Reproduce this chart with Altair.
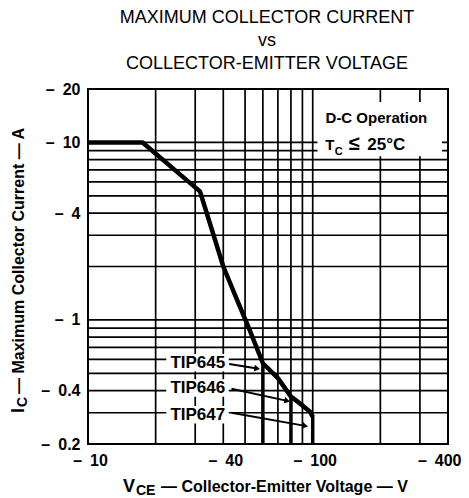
import altair as alt
import pandas as pd

FONT = "Liberation Sans"

# ---------------- data ----------------
title_lines = ["MAXIMUM COLLECTOR CURRENT", "vs", "COLLECTOR-EMITTER VOLTAGE"]

x_domain = [10, 400]
y_domain = [0.2, 20]
x_tick_values = [10, 40, 100, 400]
y_tick_values = [20, 10, 4, 1, 0.4, 0.2]
grid_v = [20, 30, 40, 50, 60, 70, 80, 90, 100, 200, 300]
grid_i = [0.3, 0.4, 0.5, 0.6, 0.7, 0.8, 0.9, 1, 2, 3, 4, 5, 6, 7, 8, 9, 10]

curve_v = [10, 17.5, 28.5, 31.5, 40, 46, 52, 60, 70, 80, 90, 97, 100]
curve_i = [10, 10, 5.9, 5.3, 2.0, 1.3, 0.9, 0.57, 0.47, 0.37, 0.33, 0.305, 0.285]

devices = ["TIP645", "TIP646", "TIP647"]
rating_v = [60, 80, 100]
rating_i = [0.57, 0.37, 0.29]

label_v = [40.8, 40.8, 40.8]
label_i = [0.573, 0.414, 0.292]
label_box_v = [22.3, 42.3]
label_box_pad = 1.12
arrow_v0 = [42.5, 43.5, 43.5]
arrow_i0 = [0.565, 0.409, 0.300]
arrow_v1 = [56.6, 77.0, 92.6]
arrow_i1 = [0.532, 0.350, 0.253]
arrow_deg = [9, 12, 10]

note_box_v = [105, 376]
note_box_i = [8.37, 16.9]
note_texts = ["D-C Operation", "T", "C", "\u2264", "25\u00b0C"]
note_v = [192, 113.6, 125.4, 145, 175]
note_i = [12.8, 9.05, 8.48, 9.05, 9.05]
note_size = [15, 15, 11, 20, 17]
note_align = ["center", "left", "left", "left", "left"]

x_title_parts = ["V", "CE", "\u2014 Collector-Emitter Voltage \u2014 V"]
y_title_parts = ["I", "C", "\u2014 Maximum Collector Current \u2014 A"]

# ---------------- scales / axes ----------------
xs = alt.Scale(type="log", domain=x_domain, nice=False)
ys = alt.Scale(type="log", domain=y_domain, nice=False)

xaxis = alt.Axis(
    values=x_tick_values, format="~g", labelExpr="'\u2013\u2002' + datum.label",
    grid=False, ticks=False, domain=False, labelFlush=False,
    labelFont=FONT, labelFontWeight="bold", labelFontSize=16, labelColor="black",
    labelPadding=8,
    labelAlign={"condition": {"test": "datum.value >= 400", "value": "right"}, "value": "center"},
    labelOffset={"condition": {"test": "datum.value >= 400", "value": 13}, "value": 2},
    title="",
)
yaxis = alt.Axis(
    values=y_tick_values, format="~g", labelExpr="'\u2013\u2002' + datum.label",
    grid=False, ticks=False, domain=False, labelFlush=False,
    labelFont=FONT, labelFontWeight="bold", labelFontSize=16, labelColor="black",
    labelPadding=8, title="",
)


def X(f):
    return alt.X(f, type="quantitative", scale=xs, axis=xaxis)


def Y(f):
    return alt.Y(f, type="quantitative", scale=ys, axis=yaxis)


# ---------------- tables ----------------
gv = pd.DataFrame({"v": grid_v, "i0": y_domain[0], "i1": y_domain[1]})
gh = pd.DataFrame({"i": grid_i, "v0": x_domain[0], "v1": x_domain[1]})
curve = pd.DataFrame({"v": curve_v, "i": curve_i, "k": range(len(curve_v))})
rating = pd.DataFrame({"v": rating_v, "i": rating_i, "i0": y_domain[0]})
labels = pd.DataFrame({
    "dev": devices, "v": label_v, "i": label_i,
    "bv0": label_box_v[0], "bv1": label_box_v[1],
    "bi0": [x / label_box_pad for x in label_i],
    "bi1": [x * label_box_pad for x in label_i],
})
arrows = pd.DataFrame({"v0": arrow_v0, "i0": arrow_i0, "v1": arrow_v1,
                       "i1": arrow_i1, "ang": arrow_deg})
note_box = pd.DataFrame({"v0": [note_box_v[0]], "v1": [note_box_v[1]],
                         "i0": [note_box_i[0]], "i1": [note_box_i[1]]})

layers = []
layers.append(alt.Chart(gv).mark_rule(color="black", strokeWidth=1.7).encode(
    x=X("v"), y=Y("i0"), y2="i1"))
layers.append(alt.Chart(gh).mark_rule(color="black", strokeWidth=1.7).encode(
    x=X("v0"), x2="v1", y=Y("i")))
layers.append(alt.Chart(note_box).mark_rect(color="white").encode(
    x=X("v0"), x2="v1", y=Y("i0"), y2="i1"))
layers.append(alt.Chart(labels).mark_rect(color="white").encode(
    x=X("bv0"), x2="bv1", y=Y("bi0"), y2="bi1"))
layers.append(alt.Chart(curve).mark_line(color="black", strokeWidth=4.5,
                                         strokeJoin="round").encode(
    x=X("v"), y=Y("i"), order="k:Q"))
layers.append(alt.Chart(rating).mark_rule(color="black", strokeWidth=3.5).encode(
    x=X("v"), y=Y("i"), y2="i0"))
layers.append(alt.Chart(arrows).mark_rule(color="black", strokeWidth=2).encode(
    x=X("v0"), x2="v1", y=Y("i0"), y2="i1"))
layers.append(alt.Chart(arrows).mark_point(shape="triangle-right", filled=True,
                                           size=45, color="black", opacity=1).encode(
    x=X("v1"), y=Y("i1"), angle=alt.Angle("ang:Q", scale=None)))
layers.append(alt.Chart(labels).mark_text(font=FONT, fontWeight="bold", fontSize=17,
                                          align="right", baseline="middle",
                                          color="black").encode(
    x=X("v"), y=Y("i"), text="dev:N"))

for t, v, i, s, a in zip(note_texts, note_v, note_i, note_size, note_align):
    layers.append(alt.Chart(pd.DataFrame({"t": [t], "v": [v], "i": [i]})).mark_text(
        font=FONT, fontWeight="bold", fontSize=s, align=a, baseline="alphabetic",
        color="black").encode(x=X("v"), y=Y("i"), text="t:N"))

# chart title (three centred lines)
for t, py in zip(title_lines, [-66, -43, -20]):
    layers.append(alt.Chart(pd.DataFrame({"t": [t]})).mark_text(
        font=FONT, fontSize=18, align="center", baseline="alphabetic",
        color="black").encode(x=alt.value(179), y=alt.value(py), text="t:N"))

# x axis title with subscript
for t, px, py, s in zip(x_title_parts, [35, 48, 73], [403, 406, 403], [18, 14, 16]):
    layers.append(alt.Chart(pd.DataFrame({"t": [t]})).mark_text(
        font=FONT, fontWeight="bold", fontSize=s, align="left", baseline="alphabetic",
        color="black").encode(x=alt.value(px), y=alt.value(py), text="t:N"))

# y axis title with subscript (rotated)
for t, px, py, s in zip(y_title_parts, [-64, -61, -64], [324, 318, 305], [18, 14, 16]):
    layers.append(alt.Chart(pd.DataFrame({"t": [t]})).mark_text(
        font=FONT, fontWeight="bold", fontSize=s, align="left", baseline="alphabetic",
        angle=270, color="black").encode(x=alt.value(px), y=alt.value(py), text="t:N"))

chart = alt.layer(*layers).properties(
    width=360, height=355,
    autosize=alt.AutoSizeParams(type="none"),
    padding={"left": 80, "top": 81, "right": 13, "bottom": 54},
    background="white",
).configure_view(stroke="black", strokeWidth=2)

chart.save("out.html", embed_options={"renderer": "svg", "actions": False})
